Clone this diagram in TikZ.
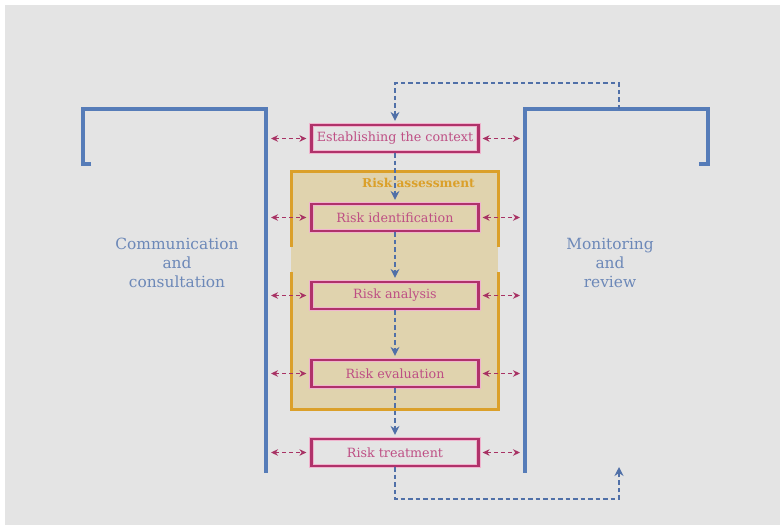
\documentclass[tikz,border=0pt]{standalone}
\usepackage{fontspec}
\setmainfont{DejaVu Serif}
\usetikzlibrary{arrows.meta}

\definecolor{pagebg}{RGB}{228,228,228}
\definecolor{barblue}{RGB}{86,124,184}
\definecolor{sideblue}{RGB}{108,136,184}
\definecolor{stepline}{RGB}{176,50,106}
\definecolor{stephalo}{RGB}{240,180,206}
\definecolor{steptext}{RGB}{190,78,132}
\definecolor{linkpink}{RGB}{168,50,100}
\definecolor{flowblue}{RGB}{80,112,168}
\definecolor{assessline}{RGB}{219,160,42}
\definecolor{assessfill}{RGB}{224,211,174}

\tikzset{
  stepbox/.style={draw=stepline, line width=2.2pt,
    preaction={draw=stephalo, line width=4.4pt},
    minimum width=167pt, minimum height=27pt, inner sep=0pt,
    text=steptext, font=\fontsize{12.7}{14}\selectfont},
  sidetext/.style={text=sideblue, align=center,
    font=\fontsize{15.4}{19}\selectfont},
  bar/.style={draw=barblue, line width=3.1pt, line join=miter},
  assessedge/.style={draw=assessline, line width=3pt},
  twoway/.style={draw=linkpink, line width=1.8pt,
    dash pattern=on 4pt off 3pt,
    {Stealth[length=7pt,width=6.5pt]}-{Stealth[length=7pt,width=6.5pt]}},
  flow/.style={draw=flowblue, line width=1.9pt,
    dash pattern=on 4.5pt off 3pt,
    -{Stealth[length=9pt,width=9pt]}}
}

\begin{document}
\begin{tikzpicture}[x=1pt,y=-1pt]
  % page
  \useasboundingbox (0,0) rectangle (780,525);
  \fill[white] (0,0) rectangle (780,525);
  \fill[pagebg] (5,5) rectangle (780,525);

  % risk assessment panel
  \fill[assessfill] (291,171) rectangle (498,409);
  \draw[assessedge] (291,247) -- (291,171) -- (498,171) -- (498,247);
  \draw[assessedge] (291,272) -- (291,409) -- (498,409) -- (498,272);
  \node[text=assessline, font=\bfseries\fontsize{12.2}{14}\selectfont]
    (assesslabel) at (418.5,183) {Risk assessment};

  % side brackets
  \draw[bar] (91,164) -- (83,164) -- (83,109) -- (266,109) -- (266,473);
  \draw[bar] (699,164) -- (708,164) -- (708,109) -- (525,109) -- (525,473);
  \coordinate (leftbar) at (266,109);
  \coordinate (rightbar) at (525,109);
  \coordinate (montop) at (619,109);
  \coordinate (monbot) at (619,467);
  \coordinate (looptop) at (619,83);
  \coordinate (loopbot) at (619,499);

  \node[sidetext] (comm) at (177,263) {Communication\\and\\consultation};
  \node[sidetext] (mon) at (610,263) {Monitoring\\and\\review};

  % process steps
  \node[stepbox] (ctx)   at (395,138.5) {Establishing the context};
  \node[stepbox] (ident) at (395,217.5) {Risk identification};
  \node[stepbox] (anal)  at (395,295.5) {Risk analysis};
  \node[stepbox] (evalu) at (395,373.5) {Risk evaluation};
  \node[stepbox] (treat) at (395,452.5) {Risk treatment};

  % main flow
  \draw[flow, shorten >=3pt] (ctx.south) -- (ident.north);
  \draw[flow, shorten >=3pt] (ident.south) -- (anal.north);
  \draw[flow, shorten >=3pt] (anal.south) -- (evalu.north);
  \draw[flow, shorten >=3pt] (evalu.south) -- (treat.north);

  % monitoring loops
  \draw[flow, shorten >=3pt] (montop) -- (looptop) -| (ctx.north);
  \draw[flow] (treat.south) |- (loopbot) -- (monbot);

  % links to communication and monitoring
  \foreach \s in {ctx,ident,anal,evalu,treat}{
    \draw[twoway, shorten <=5pt, shorten >=4pt] (\s.west -| leftbar) -- (\s.west);
    \draw[twoway, shorten <=3pt, shorten >=5pt] (\s.east) -- (\s.east -| rightbar);
  }
\end{tikzpicture}
\end{document}
